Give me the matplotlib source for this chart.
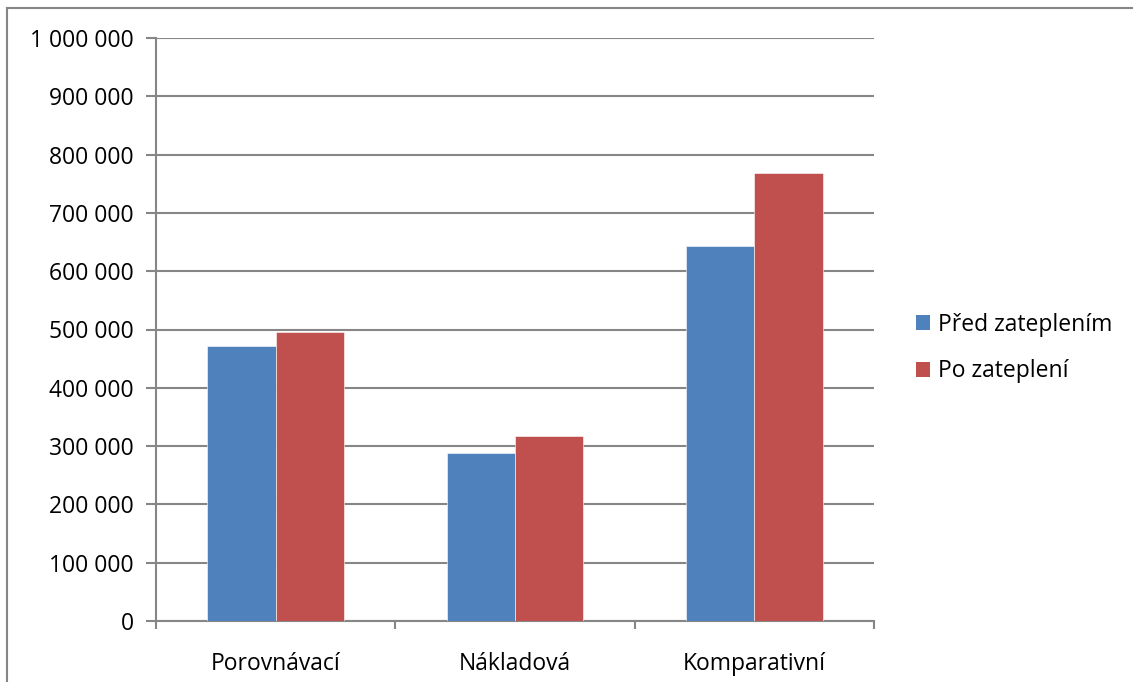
import numpy as np
import matplotlib
matplotlib.use("Agg")
import matplotlib.pyplot as plt
from matplotlib.lines import Line2D
from matplotlib.patches import Patch
from matplotlib.ticker import FuncFormatter, MultipleLocator

# data
categories = ["Porovnávací", "Nákladová", "Komparativní"]
pred = [472000, 288000, 644000]
po = [496000, 318000, 769000]
series_names = ["Před zateplením", "Po zateplení"]
colors = ["#4f81bd", "#c0504d"]

plt.rcParams['font.family'] = ['Open Sans', 'DejaVu Sans']
grid_col = "#868686"
fs = 16.5

fig = plt.figure(figsize=(11.33, 6.82), dpi=100)
ax = fig.add_axes([156/1133, 1 - 621/682, (874 - 156)/1133, (621 - 38)/682])

x = np.arange(len(categories))
w = 0.2857
ax.bar(x - w/2, pred, w, color=colors[0], edgecolor="#ffffff", linewidth=0.4, zorder=3)
ax.bar(x + w/2, po, w, color=colors[1], edgecolor="#ffffff", linewidth=0.4, zorder=3)

ax.set_xlim(-0.5, len(categories) - 0.5)
ax.set_ylim(0, 1000000)
ax.yaxis.set_major_locator(MultipleLocator(100000))
ax.yaxis.set_major_formatter(FuncFormatter(lambda v, p: f"{int(v):,}".replace(",", " ")))
ax.grid(axis="y", color=grid_col, linewidth=1.5, zorder=0)
ax.set_axisbelow(True)

# category boundary ticks on x axis
ax.set_xticks(np.arange(-0.5, len(categories)), minor=False)
ax.set_xticklabels([])
ax.set_xticks(x, minor=True)
ax.set_xticklabels(categories, minor=True)
ax.tick_params(axis="x", which="major", length=6, width=1.5, color=grid_col)
ax.tick_params(axis="x", which="minor", length=0, pad=22, labelsize=fs)
ax.tick_params(axis="y", length=7, width=1.5, color=grid_col, labelsize=fs, pad=9)

for s in ["top", "right"]:
    ax.spines[s].set_visible(False)
for s in ["left", "bottom"]:
    ax.spines[s].set_color(grid_col)
    ax.spines[s].set_linewidth(1.5)

handles = [Patch(facecolor=c) for c in colors]
fig.legend(handles, series_names, loc="center left", bbox_to_anchor=(895/1133, 1 - 348/682),
           frameon=False, fontsize=fs, handlelength=0.62, handleheight=0.62,
           handletextpad=0.35, labelspacing=1.0)

# outer chart frame
fig.add_artist(Line2D([7/1133, 7/1133], [0, 1 - 8/682], color=grid_col, linewidth=1.5))
fig.add_artist(Line2D([7/1133, 1], [1 - 8/682, 1 - 8/682], color=grid_col, linewidth=1.5))

fig.savefig("out.png", dpi=100)
